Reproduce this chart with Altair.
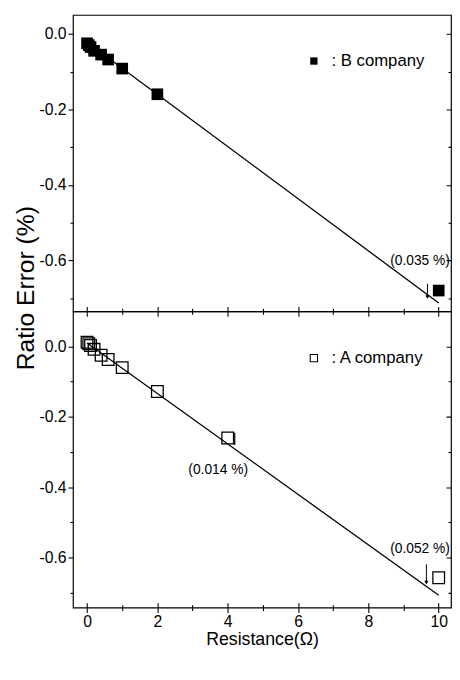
import altair as alt
import pandas as pd

# ---------------- data ----------------
b_res = [0, 0.05, 0.1, 0.2, 0.4, 0.6, 1, 2, 10]
b_err = [-0.025, -0.03, -0.035, -0.045, -0.055, -0.068, -0.092, -0.16, -0.68]
b_fit_res = [0, 10]
b_fit_err = [-0.022, -0.713]

a_res = [0, 0.05, 0.1, 0.2, 0.4, 0.6, 1, 2, 4, 10]
a_err = [0.012, 0.008, 0.003, -0.008, -0.025, -0.037, -0.06, -0.128, -0.26, -0.657]
a_fit_res = [0, 10]
a_fit_err = [0.01, -0.707]

x_ticks = [0, 2, 4, 6, 8, 10]
x_minor = [1, 3, 5, 7, 9]
y_ticks = [0.0, -0.2, -0.4, -0.6]
y_minor = [-0.1, -0.3, -0.5, -0.7]

b_legend = [": B company"]
b_legend_x = [6.45]
b_legend_tx = [6.95]
b_legend_y = [-0.072]
b_note_text = ["(0.035 %)"]
b_note_x = [8.62]
b_note_y = [-0.603]
b_arrow_x = [9.68]
b_arrow_y1 = [-0.662]
b_arrow_y2 = [-0.697]

a_legend = [": A company"]
a_legend_x = [6.45]
a_legend_tx = [6.95]
a_legend_y = [-0.033]
a_note_text = ["(0.014 %)", "(0.052 %)"]
a_note_x = [2.88, 8.62]
a_note_y = [-0.35, -0.575]
a_arrow_x = [9.65]
a_arrow_y1 = [-0.619]
a_arrow_y2 = [-0.671]
a_bar_x = [4.2]
a_bar_y1 = [-0.245]
a_bar_y2 = [-0.28]

FONT = "Liberation Sans"
W = 384
H = 301
X_DOMAIN = [-0.4, 10.35]
LABEL_EXPR = "datum.value < 0 ? '-' + format(-datum.value, '.1f') : format(datum.value, '.1f')"


def panel(res, err, fit_res, fit_err, ydom, height, filled,
          leg_text, leg_x, leg_tx, leg_y, note_text, note_x, note_y,
          arr_x, arr_y1, arr_y2, bottom_labels, ytitle,
          bar_x=None, bar_y1=None, bar_y2=None):
    xs = alt.Scale(domain=X_DOMAIN, nice=False, zero=False)
    ys = alt.Scale(domain=ydom, nice=False, zero=False)
    df = pd.DataFrame({"r": res, "e": err})
    base = alt.Chart(df)

    # grid dashes draw only a short inward tick on the opposite (top / right) edge
    gkw = dict(grid=True, gridColor="black", gridWidth=1.1, gridOpacity=1)

    xkw = dict(orient="bottom", values=x_ticks, tickSize=5, labels=bottom_labels,
               labelFontSize=16, labelPadding=1, gridDash=[0, height - 5, 5, 3000], **gkw)
    if bottom_labels:
        xkw.update(title="Resistance(Ω)", titleFontSize=18, titleFontWeight="normal",
                   titlePadding=1)
    else:
        xkw.update(title=None)
    ykw = dict(orient="left", values=y_ticks, tickSize=5, labelExpr=LABEL_EXPR,
               labelFontSize=16, labelPadding=2, gridDash=[0, W - 5, 5, 3000], **gkw)
    if ytitle:
        ykw.update(title=ytitle, titleFontSize=25, titleFontWeight="normal",
                   titleX=-40, titleY=277, titleAngle=270, titleAlign="center",
                   titleBaseline="alphabetic")
    else:
        ykw.update(title=None)

    ax_major = base.mark_point(opacity=0).encode(
        x=alt.X("r:Q", scale=xs, axis=alt.Axis(**xkw)),
        y=alt.Y("e:Q", scale=ys, axis=alt.Axis(**ykw)),
    )
    ax_minor = base.mark_point(opacity=0).encode(
        x=alt.X("r:Q", scale=xs, axis=alt.Axis(orient="bottom", values=x_minor,
                                               tickSize=3, labels=False, title=None,
                                               gridDash=[0, height - 3, 3, 3000], **gkw)),
        y=alt.Y("e:Q", scale=ys, axis=alt.Axis(orient="left", values=y_minor,
                                               tickSize=3, labels=False, title=None,
                                               gridDash=[0, W - 3, 3, 3000], **gkw)),
    )

    fit = alt.Chart(pd.DataFrame({"r": fit_res, "e": fit_err})).mark_line(
        color="black", strokeWidth=1.3
    ).encode(x=alt.X("r:Q", scale=xs, axis=None), y=alt.Y("e:Q", scale=ys, axis=None))

    if filled:
        pts = base.mark_point(shape="square", filled=True, size=140, color="black", opacity=1)
    else:
        pts = base.mark_point(shape="square", filled=False, size=140, color="black",
                              strokeWidth=1.3, opacity=1)
    pts = pts.encode(x=alt.X("r:Q", scale=xs, axis=None), y=alt.Y("e:Q", scale=ys, axis=None))

    leg_df = pd.DataFrame({"x": leg_x, "tx": leg_tx, "y": leg_y, "t": leg_text})
    if filled:
        leg_sym = alt.Chart(leg_df).mark_point(shape="square", filled=True, size=55,
                                               color="black", opacity=1)
    else:
        leg_sym = alt.Chart(leg_df).mark_point(shape="square", filled=False, size=55,
                                               color="black", strokeWidth=1.1, opacity=1)
    leg_sym = leg_sym.encode(x=alt.X("x:Q", scale=xs, axis=None),
                             y=alt.Y("y:Q", scale=ys, axis=None))
    leg_txt = alt.Chart(leg_df).mark_text(align="left", baseline="middle", font=FONT,
                                          fontSize=17, color="black").encode(
        x=alt.X("tx:Q", scale=xs, axis=None), y=alt.Y("y:Q", scale=ys, axis=None), text="t:N")

    notes = alt.Chart(pd.DataFrame({"x": note_x, "y": note_y, "t": note_text})).mark_text(
        align="left", baseline="middle", font=FONT, fontSize=14, color="black"
    ).encode(x=alt.X("x:Q", scale=xs, axis=None), y=alt.Y("y:Q", scale=ys, axis=None), text="t:N")

    arr_df = pd.DataFrame({"x": arr_x, "y1": arr_y1, "y2": arr_y2})
    arr_line = alt.Chart(arr_df).mark_rule(color="black", strokeWidth=1).encode(
        x=alt.X("x:Q", scale=xs, axis=None), y=alt.Y("y1:Q", scale=ys, axis=None), y2="y2:Q")
    arr_head = alt.Chart(arr_df).mark_point(shape="triangle-down", filled=True, size=18,
                                            color="black", opacity=1).encode(
        x=alt.X("x:Q", scale=xs, axis=None), y=alt.Y("y2:Q", scale=ys, axis=None))

    layers = [ax_major, ax_minor, fit, pts, leg_sym, leg_txt, notes, arr_line, arr_head]
    if bar_x is not None:
        bar = alt.Chart(pd.DataFrame({"x": bar_x, "y1": bar_y1, "y2": bar_y2})).mark_rule(
            color="black", strokeWidth=1.2).encode(
            x=alt.X("x:Q", scale=xs, axis=None), y=alt.Y("y1:Q", scale=ys, axis=None), y2="y2:Q")
        layers.append(bar)

    return alt.layer(*layers).resolve_axis(x="independent", y="independent").properties(
        width=W, height=height)


top = panel(b_res, b_err, b_fit_res, b_fit_err, [-0.735, 0.05], H, True,
            b_legend, b_legend_x, b_legend_tx, b_legend_y, b_note_text, b_note_x, b_note_y,
            b_arrow_x, b_arrow_y1, b_arrow_y2, bottom_labels=False, ytitle="Ratio Error (%)")
bottom = panel(a_res, a_err, a_fit_res, a_fit_err, [-0.742, 0.1], H, False,
               a_legend, a_legend_x, a_legend_tx, a_legend_y, a_note_text, a_note_x, a_note_y,
               a_arrow_x, a_arrow_y1, a_arrow_y2, bottom_labels=True, ytitle=None,
               bar_x=a_bar_x, bar_y1=a_bar_y1, bar_y2=a_bar_y2)

chart = alt.vconcat(top, bottom, spacing=0, bounds="flush").properties(
    padding={"left": 5, "top": 1, "right": 0, "bottom": 0}
).configure_view(stroke="black", strokeWidth=1.2).configure_axis(
    domain=False, tickColor="black", tickWidth=1.1, labelColor="black",
    titleColor="black", labelFont=FONT, titleFont=FONT
)

chart.save("out.html", embed_options={"renderer": "svg", "actions": False})
